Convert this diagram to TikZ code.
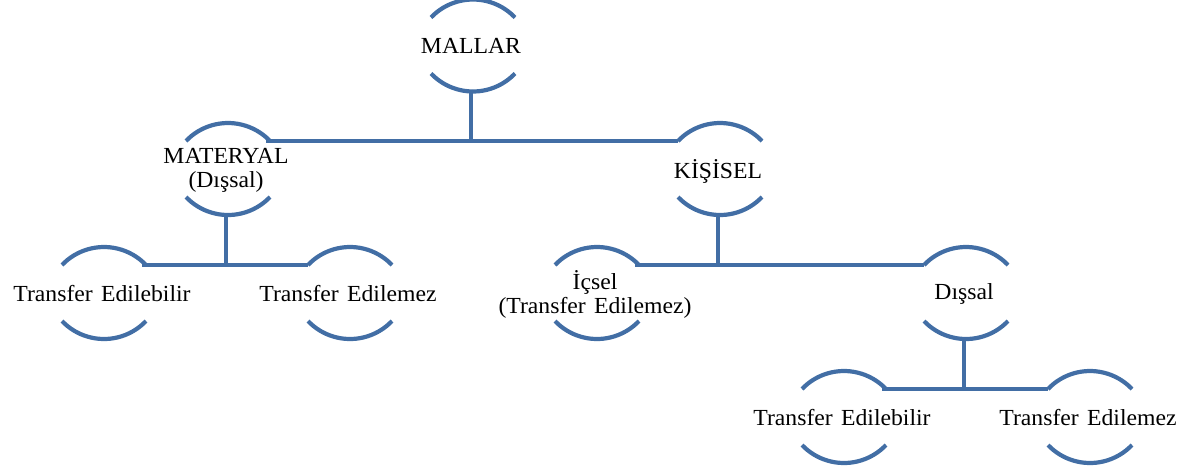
\documentclass[tikz,border=0pt]{standalone}
\usepackage{fontspec}
\setmainfont[WordSpace=1.4,FakeStretch=1.03]{Liberation Serif}
\definecolor{brc}{RGB}{66,110,165}
\begin{document}
\begin{tikzpicture}[x=1pt,y=1pt,
  br/.style={draw=brc,line width=4.2pt},
  lbl/.style={inner sep=0pt,align=center,font=\fontsize{23}{24}\selectfont,text=black}]
\useasboundingbox (0,0) rectangle (1185,-467);
\node[lbl] (mallar) at (471,-45.5) {MALLAR};
\node[lbl] (materyal) at (226,-170) {MATERYAL\\(Dışsal)};
\node[lbl] (kisisel) at (718,-171) {KİŞİSEL};
\node[lbl] (ted1) at (102,-294) {Transfer Edilebilir};
\node[lbl] (tem1) at (348,-294) {Transfer Edilemez};
\node[lbl] (icsel) at (595,-294) {İçsel\\(Transfer Edilemez)};
\node[lbl] (dissal) at (964,-294) {Dışsal};
\node[lbl] (ted2) at (842,-418) {Transfer Edilebilir};
\node[lbl] (tem2) at (1088,-418) {Transfer Edilemez};
\foreach \n/\yy in {mallar/-45.5,materyal/-169,kisisel/-169,ted1/-293,tem1/-293,icsel/-293,dissal/-293,ted2/-417,tem2/-417}{
  \coordinate (\n-c) at (\n.center |- 0,\yy);
  \coordinate (\n-tl) at ([shift={(-40pt,28pt)}]\n-c);
  \coordinate (\n-tr) at ([shift={(40pt,28pt)}]\n-c);
  \coordinate (\n-b) at ([yshift=-44pt]\n-c);
  \draw[br] (\n-tl) arc[start angle=136.4,end angle=43.6,radius=58pt];
  \draw[br] ([shift={(-40pt,-28pt)}]\n-c) arc[start angle=223.6,end angle=316.4,radius=58pt];
}
\draw[br] (materyal-tr) -- (kisisel-tl);
\draw[br] (mallar-b) -- (mallar-b |- materyal-tr);
\draw[br] (ted1-tr) -- (tem1-tl);
\draw[br] (materyal-b) -- (materyal-b |- ted1-tr);
\draw[br] (icsel-tr) -- (dissal-tl);
\draw[br] (kisisel-b) -- (kisisel-b |- icsel-tr);
\draw[br] (ted2-tr) -- (tem2-tl);
\draw[br] (dissal-b) -- (dissal-b |- ted2-tr);
\end{tikzpicture}
\end{document}
